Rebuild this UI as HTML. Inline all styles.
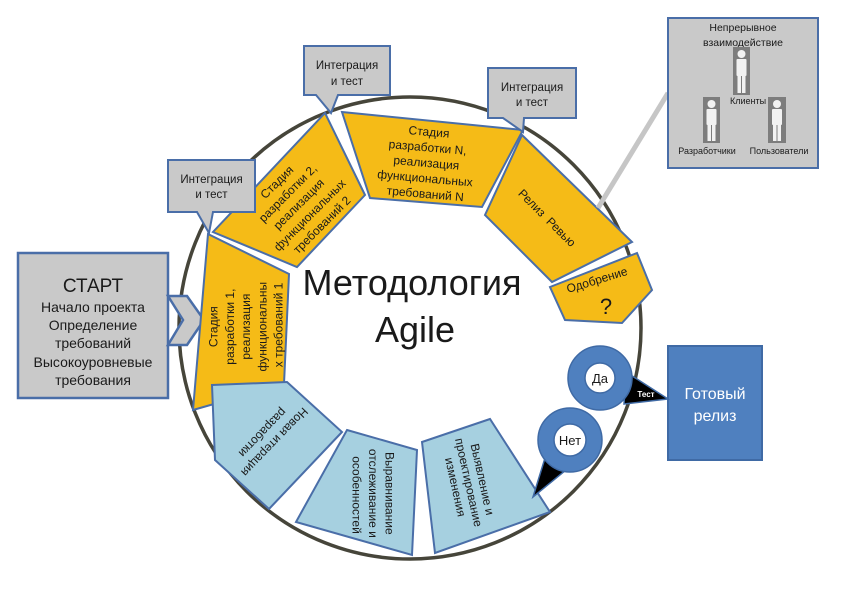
<!DOCTYPE html>
<html>
<head>
<meta charset="utf-8">
<style>
  html,body{margin:0;padding:0;background:#fff;}
  svg{display:block;}
  text{font-family:"Liberation Sans","DejaVu Sans",sans-serif;fill:#1a1a1a;}
</style>
</head>
<body>
<svg width="844" height="604" viewBox="0 0 844 604" xmlns="http://www.w3.org/2000/svg">
  <rect x="0" y="0" width="844" height="604" fill="#fff"/>

  <!-- big circle -->
  <circle cx="410" cy="328" r="231" fill="none" stroke="#46453a" stroke-width="3.5"/>

  <!-- START box -->
  <rect x="18" y="253" width="150" height="145" fill="#c9c9c9" stroke="#4a6ea8" stroke-width="2.5"/>
  <polygon points="168,296 187,296 204,320 187,345 168,345 183,320" fill="#c9c9c9" stroke="#4a6ea8" stroke-width="2.5"/>
  <text x="93" y="292" font-size="19" text-anchor="middle">СТАРТ</text>
  <g font-size="14" text-anchor="middle">
    <text x="93" y="312">Начало проекта</text>
    <text x="93" y="330">Определение</text>
    <text x="93" y="348">требований</text>
    <text x="93" y="367">Высокоуровневые</text>
    <text x="93" y="385">требования</text>
  </g>

  <!-- Yellow stages -->
  <g fill="#f5bb17" stroke="#4a6ea8" stroke-width="2">
    <polygon points="208,234 289,274 284,384 193,410"/>
    <polygon points="325,113 365,195 297,267 213,232"/>
    <polygon points="342,112 523,130 482,207 370,198"/>
    <polygon points="522,135 632,242 552,282 485,215"/>
    <polygon points="550,287 637,253 652,290 622,323 565,320"/>
  </g>

  <!-- Light blue stages -->
  <g fill="#a6d0e0" stroke="#4a6ea8" stroke-width="2">
    <polygon points="212,385 287,382 342,432 269,509 215,460"/>
    <polygon points="347,430 417,450 412,555 296,522"/>
    <polygon points="422,442 490,419 550,512 435,553"/>
  </g>

  <!-- Stage 1 text -->
  <g transform="translate(246,325) rotate(-90)" font-size="12">
    <text text-anchor="middle">
      <tspan x="0" y="-28.5">Стадия</tspan>
      <tspan x="0" y="-12.2">разработки 1,</tspan>
      <tspan x="0" y="4">реализация</tspan>
      <tspan x="0" y="20.3">функциональны</tspan>
      <tspan x="0" y="36.6">х требований 1</tspan>
    </text>
  </g>

  <!-- Stage 2 text -->
  <g transform="translate(300,203) rotate(-45)" font-size="12">
    <text text-anchor="middle">
      <tspan x="0" y="-27">Стадия</tspan>
      <tspan x="0" y="-11.5">разработки 2,</tspan>
      <tspan x="0" y="4">реализация</tspan>
      <tspan x="0" y="19.5">функциональных</tspan>
      <tspan x="0" y="35">требований 2</tspan>
    </text>
  </g>

  <!-- Stage N text -->
  <g transform="translate(428,163) rotate(5)" font-size="12">
    <text text-anchor="middle">
      <tspan x="0" y="-27">Стадия</tspan>
      <tspan x="0" y="-11.5">разработки N,</tspan>
      <tspan x="0" y="4">реализация</tspan>
      <tspan x="0" y="19.5">функциональных</tspan>
      <tspan x="0" y="35">требований N</tspan>
    </text>
  </g>

  <!-- Release review -->
  <g transform="translate(547,218) rotate(45)" font-size="12">
    <text text-anchor="middle" y="4">Релиз&#160; Ревью</text>
  </g>

  <!-- Approval -->
  <g transform="translate(597,280) rotate(-17)" font-size="12">
    <text text-anchor="middle" y="4">Одобрение</text>
  </g>
  <text x="606" y="314" font-size="22" text-anchor="middle">?</text>

  <!-- Blue 1 text -->
  <g transform="translate(268,438) rotate(134)" font-size="12">
    <text text-anchor="middle">
      <tspan x="0" y="-3.5">Новая итерация</tspan>
      <tspan x="0" y="11.5">разработки</tspan>
    </text>
  </g>

  <!-- Blue 2 text -->
  <g transform="translate(373,495) rotate(90)" font-size="12">
    <text text-anchor="middle">
      <tspan x="0" y="-12.5">Выравнивание</tspan>
      <tspan x="0" y="4">отслеживание и</tspan>
      <tspan x="0" y="20.5">особенностей</tspan>
    </text>
  </g>

  <!-- Blue 3 text -->
  <g transform="translate(469,484) rotate(77.5)" font-size="12">
    <text text-anchor="middle">
      <tspan x="0" y="-10">Выявление и</tspan>
      <tspan x="0" y="4">проектирование</tspan>
      <tspan x="0" y="18">изменения</tspan>
    </text>
  </g>

  <!-- Callouts -->
  <g fill="#c9c9c9" stroke="#4a6ea8" stroke-width="2" stroke-linejoin="miter">
    <path d="M168,160 H255 V212 H213 L209,233 L197,212 H168 Z"/>
    <path d="M304,46 H390 V95 H338 L331,113 L316,95 H304 Z"/>
    <path d="M488,68 H576 V118 H524 L523,132 L503,118 H488 Z"/>
  </g>
  <g font-size="11.5" text-anchor="middle" style="fill:#333">
    <text x="211.5" y="183">Интеграция</text>
    <text x="211.5" y="198">и тест</text>
    <text x="347" y="69">Интеграция</text>
    <text x="347" y="85">и тест</text>
    <text x="532" y="91">Интеграция</text>
    <text x="532" y="106">и тест</text>
  </g>

  <!-- Title -->
  <text x="412" y="295" font-size="36" text-anchor="middle">Методология</text>
  <text x="415" y="342" font-size="36" text-anchor="middle">Agile</text>

  <!-- Top-right collaboration box -->
  <line x1="668" y1="93" x2="598" y2="208" stroke="#c6c6c6" stroke-width="5"/>
  <rect x="668" y="18" width="150" height="150" fill="#c9c9c9" stroke="#4a6ea8" stroke-width="2"/>
  <g font-size="10.5" text-anchor="middle" style="fill:#222">
    <text x="743" y="31">Непрерывное</text>
    <text x="743" y="46">взаимодействие</text>
  </g>
  <!-- people -->
  <g>
    <rect x="733" y="47" width="17" height="48" fill="#7d7d7d"/>
    <g fill="#f2f2f2">
      <circle cx="741.5" cy="54" r="4"/>
      <rect x="736.5" y="59" width="10" height="17" rx="1"/>
      <rect x="737.5" y="75" width="3.5" height="18"/>
      <rect x="742" y="75" width="3.5" height="18"/>
    </g>
    <rect x="703" y="97" width="17" height="46" fill="#7d7d7d"/>
    <g fill="#f2f2f2">
      <circle cx="711.5" cy="104" r="4"/>
      <rect x="706.5" y="109" width="10" height="16" rx="1"/>
      <rect x="707.5" y="124" width="3.5" height="17"/>
      <rect x="712" y="124" width="3.5" height="17"/>
    </g>
    <rect x="768" y="97" width="18" height="46" fill="#7d7d7d"/>
    <g fill="#f2f2f2">
      <circle cx="777" cy="104" r="4"/>
      <rect x="772" y="109" width="10" height="16" rx="1"/>
      <rect x="773" y="124" width="3.5" height="17"/>
      <rect x="777.5" y="124" width="3.5" height="17"/>
    </g>
  </g>
  <g font-size="9" text-anchor="middle" style="fill:#222">
    <text x="748" y="104">Клиенты</text>
    <text x="707" y="154">Разработчики</text>
    <text x="779" y="154">Пользователи</text>
  </g>

  <!-- Ready release box -->
  <rect x="668" y="346" width="94" height="114" fill="#4f80bf" stroke="#3f6aa5" stroke-width="2"/>
  <g font-size="16" text-anchor="middle">
    <text x="715" y="399" style="fill:#fff">Готовый</text>
    <text x="715" y="421" style="fill:#fff">релиз</text>
  </g>

  <!-- Yes ring -->
  <polygon points="626,372 668,399 624,404" fill="#000" stroke="#3f6aa5" stroke-width="1.5"/>
  <circle cx="600" cy="378" r="32" fill="#4f80bf" stroke="#3f6aa5" stroke-width="1.5"/>
  <circle cx="600" cy="378" r="15" fill="#fff" stroke="#3f6aa5" stroke-width="1.5"/>
  <text x="600" y="383" font-size="13" text-anchor="middle">Да</text>
  <text x="646" y="397" font-size="8" font-weight="bold" text-anchor="middle" style="fill:#fff">Тест</text>

  <!-- No ring -->
  <polygon points="545,458 566,470 533,497" fill="#000" stroke="#3f6aa5" stroke-width="1.5"/>
  <circle cx="570" cy="440" r="32" fill="#4f80bf" stroke="#3f6aa5" stroke-width="1.5"/>
  <circle cx="570" cy="440" r="16" fill="#fff" stroke="#3f6aa5" stroke-width="1.5"/>
  <text x="570" y="445" font-size="13" text-anchor="middle">Нет</text>
</svg>
</body>
</html>
